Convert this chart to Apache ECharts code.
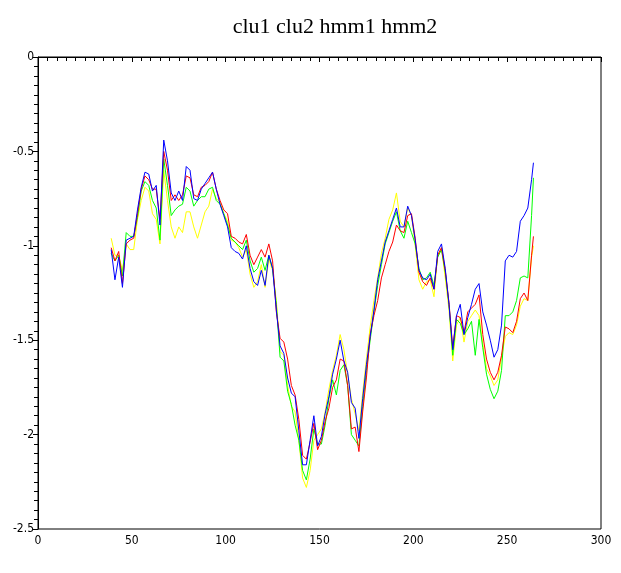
<!DOCTYPE html>
<html><head><meta charset="utf-8">
<script src="https://cdn.jsdelivr.net/npm/echarts@6/dist/echarts.min.js"></script>
<style>html,body{margin:0;padding:0;background:#fff}#c{width:621px;height:573px}</style>
</head><body><div id="c"></div>
<script>
const xs = [39,41,43,45,47,49,51,53,55,57,59,61,63,65,67,69,71,73,75,77,79,81,83,85,87,89,91,93,95,97,99,101,103,105,107,109,111,113,115,117,119,121,123,125,127,129,131,133,135,137,139,141,143,145,147,149,151,153,155,157,159,161,163,165,167,169,171,173,175,177,179,181,183,185,187,189,191,193,195,197,199,201,203,205,207,209,211,213,215,217,219,221,223,225,227,229,231,233,235,237,239,241,243,245,247,249,251,253,255,257,259,261,263,264];

const blue = [-1.02,-1.18,-1.06,-1.22,-0.97,-0.96,-0.95,-0.81,-0.69,-0.61,-0.62,-0.71,-0.68,-0.89,-0.44,-0.55,-0.72,-0.76,-0.71,-0.76,-0.58,-0.60,-0.75,-0.76,-0.70,-0.67,-0.64,-0.61,-0.70,-0.78,-0.84,-0.90,-1.01,-1.03,-1.04,-1.07,-1.00,-1.12,-1.19,-1.21,-1.13,-1.21,-1.05,-1.12,-1.34,-1.53,-1.57,-1.70,-1.78,-1.80,-1.98,-2.16,-2.16,-2.03,-1.90,-2.06,-2.01,-1.89,-1.80,-1.68,-1.60,-1.50,-1.61,-1.67,-1.83,-1.86,-2.02,-1.81,-1.63,-1.48,-1.34,-1.18,-1.08,-0.98,-0.92,-0.86,-0.80,-0.90,-0.90,-0.79,-0.84,-0.97,-1.13,-1.17,-1.18,-1.15,-1.23,-1.03,-0.99,-1.12,-1.31,-1.55,-1.37,-1.31,-1.47,-1.38,-1.31,-1.23,-1.20,-1.35,-1.42,-1.50,-1.59,-1.55,-1.42,-1.08,-1.05,-1.06,-1.03,-0.87,-0.84,-0.80,-0.65,-0.56];

const red = [-1.01,-1.08,-1.03,-1.20,-0.99,-0.97,-0.96,-0.83,-0.70,-0.63,-0.65,-0.70,-0.70,-0.86,-0.50,-0.60,-0.76,-0.73,-0.76,-0.73,-0.63,-0.64,-0.73,-0.74,-0.69,-0.68,-0.66,-0.61,-0.70,-0.76,-0.81,-0.83,-0.95,-0.96,-0.98,-0.99,-0.94,-1.05,-1.10,-1.06,-1.02,-1.06,-0.99,-1.08,-1.35,-1.49,-1.51,-1.60,-1.74,-1.79,-1.92,-2.11,-2.13,-2.04,-1.94,-2.08,-2.03,-1.93,-1.86,-1.75,-1.71,-1.60,-1.61,-1.74,-1.97,-1.96,-2.09,-1.88,-1.70,-1.47,-1.37,-1.29,-1.17,-1.10,-1.03,-0.98,-0.89,-0.92,-0.93,-0.84,-0.83,-0.96,-1.14,-1.19,-1.21,-1.17,-1.23,-1.05,-1.01,-1.13,-1.30,-1.54,-1.37,-1.38,-1.46,-1.35,-1.33,-1.31,-1.26,-1.47,-1.60,-1.67,-1.71,-1.67,-1.58,-1.43,-1.44,-1.46,-1.40,-1.28,-1.25,-1.29,-1.05,-0.95];

const green = [-1.04,-1.08,-1.05,-1.16,-0.93,-0.95,-0.95,-0.85,-0.71,-0.66,-0.68,-0.76,-0.80,-0.97,-0.54,-0.68,-0.84,-0.81,-0.79,-0.78,-0.69,-0.71,-0.79,-0.76,-0.74,-0.74,-0.70,-0.69,-0.76,-0.78,-0.83,-0.89,-0.96,-0.98,-1.00,-1.02,-0.97,-1.08,-1.14,-1.12,-1.06,-1.13,-1.05,-1.12,-1.31,-1.59,-1.61,-1.77,-1.84,-1.95,-2.03,-2.19,-2.24,-2.13,-1.97,-2.05,-2.05,-1.95,-1.81,-1.71,-1.79,-1.66,-1.63,-1.74,-2.00,-2.03,-2.06,-1.85,-1.66,-1.50,-1.35,-1.21,-1.10,-0.99,-0.93,-0.87,-0.82,-0.92,-0.96,-0.87,-0.93,-0.99,-1.12,-1.18,-1.17,-1.14,-1.21,-1.06,-1.02,-1.14,-1.31,-1.58,-1.39,-1.41,-1.47,-1.44,-1.40,-1.58,-1.39,-1.54,-1.68,-1.76,-1.81,-1.77,-1.66,-1.37,-1.37,-1.35,-1.29,-1.17,-1.16,-1.17,-0.84,-0.64];

const yellow = [-0.96,-1.05,-1.05,-1.13,-0.99,-1.02,-1.02,-0.86,-0.76,-0.69,-0.71,-0.83,-0.86,-0.99,-0.60,-0.76,-0.90,-0.96,-0.90,-0.93,-0.82,-0.82,-0.90,-0.96,-0.89,-0.82,-0.79,-0.70,-0.75,-0.77,-0.83,-0.87,-0.97,-0.98,-1.01,-1.06,-1.02,-1.15,-1.22,-1.19,-1.10,-1.22,-1.07,-1.13,-1.29,-1.56,-1.58,-1.74,-1.85,-1.88,-2.03,-2.23,-2.28,-2.19,-2.03,-2.00,-1.97,-1.88,-1.76,-1.66,-1.58,-1.47,-1.55,-1.68,-1.81,-1.89,-1.98,-1.78,-1.60,-1.43,-1.29,-1.17,-1.04,-0.96,-0.86,-0.81,-0.72,-0.87,-0.90,-0.80,-0.84,-1.00,-1.18,-1.23,-1.19,-1.18,-1.27,-1.05,-1.01,-1.17,-1.34,-1.61,-1.42,-1.38,-1.51,-1.40,-1.37,-1.34,-1.37,-1.52,-1.65,-1.69,-1.74,-1.71,-1.59,-1.48,-1.46,-1.47,-1.42,-1.32,-1.28,-1.29,-1.06,-1.00];

const xTicks = [0,50,100,150,200,250,300];
const yTicks = [0,-0.5,-1,-1.5,-2,-2.5];
const titleText = 'clu1 clu2 hmm1 hmm2';

function pairs(v){ return xs.map((x,i)=>[x,v[i]]); }

const labelFont = {color:'#000', fontFamily:"'Liberation Sans Narrow','DejaVu Sans Condensed','DejaVu Sans',sans-serif", fontSize:12};
const chart = echarts.init(document.getElementById('c'), null, {renderer:'canvas'});
const mk = (name, color, data) => ({name, type:'line', data:pairs(data), showSymbol:false, symbol:'none',
  lineStyle:{color, width:1}, itemStyle:{color}, animation:false, z:2});
chart.setOption({
  backgroundColor:'#fff',
  animation:false,
  title:{text:titleText, left:330, top:11, textAlign:'center',
    textStyle:{fontFamily:"'Liberation Serif','DejaVu Serif',serif", fontSize:22, fontWeight:'normal', color:'#000'}},
  grid:{left:38, right:20, top:57, bottom:44, show:true, borderColor:'#000', borderWidth:1, backgroundColor:'transparent'},
  xAxis:{type:'value', min:xTicks[0], max:xTicks[xTicks.length-1], interval:50,
    axisLine:{show:true, lineStyle:{color:'#000', width:1}},
    axisTick:{show:true, inside:false, length:5, lineStyle:{color:'#000'}},
    minorTick:{show:true, splitNumber:10, length:4, lineStyle:{color:'#000'}},
    splitLine:{show:false},
    axisLabel:Object.assign({margin:6}, labelFont)},
  yAxis:{type:'value', min:yTicks[yTicks.length-1], max:yTicks[0], interval:0.5,
    axisLine:{show:true, lineStyle:{color:'#000', width:1}},
    axisTick:{show:true, inside:false, length:5, lineStyle:{color:'#000'}},
    minorTick:{show:true, splitNumber:10, length:4, lineStyle:{color:'#000'}},
    splitLine:{show:false},
    axisLabel:Object.assign({margin:4}, labelFont)},
  series:[
    mk('hmm2','#ffff00',yellow),
    mk('hmm1','#00ff00',green),
    mk('clu2','#ff0000',red),
    mk('clu1','#0000ff',blue)
  ]
});
</script></body></html>
